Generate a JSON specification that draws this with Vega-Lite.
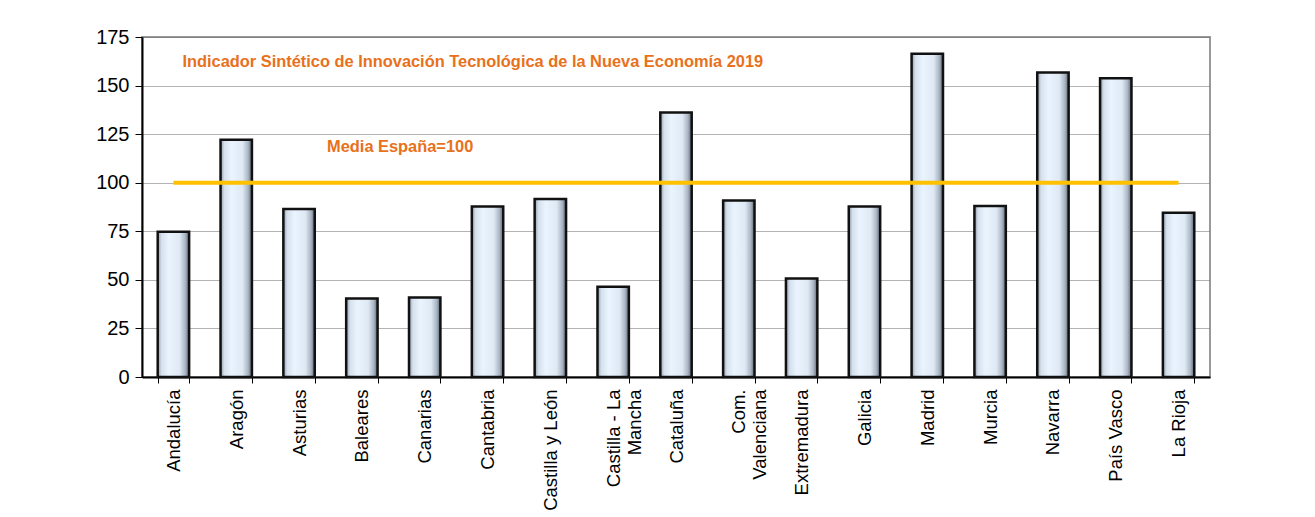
{
  "$schema": "https://vega.github.io/schema/vega-lite/v6.json",
  "width": 1068,
  "height": 340,
  "autosize": {"type": "none"},
  "padding": {"left": 142, "top": 37, "right": 105, "bottom": 140},
  "background": "white",
  "config": {
    "font": "Liberation Sans",
    "view": {"stroke": "#9a9a9a", "strokeWidth": 2}
  },
  "data": {
    "values": [
      {"region": "Andalucía", "valor": 74.7, "media": 100},
      {"region": "Aragón", "valor": 122.1, "media": 100},
      {"region": "Asturias", "valor": 86.5, "media": 100},
      {"region": "Baleares", "valor": 40.4, "media": 100},
      {"region": "Canarias", "valor": 40.9, "media": 100},
      {"region": "Cantabria", "valor": 87.8, "media": 100},
      {"region": "Castilla y León", "valor": 91.6, "media": 100},
      {"region": "Castilla - La|Mancha", "valor": 46.5, "media": 100},
      {"region": "Cataluña", "valor": 136.2, "media": 100},
      {"region": "Com.|Valenciana", "valor": 90.9, "media": 100},
      {"region": "Extremadura", "valor": 50.7, "media": 100},
      {"region": "Galicia", "valor": 87.8, "media": 100},
      {"region": "Madrid", "valor": 166.4, "media": 100},
      {"region": "Murcia", "valor": 88.0, "media": 100},
      {"region": "Navarra", "valor": 156.7, "media": 100},
      {"region": "País Vasco", "valor": 153.8, "media": 100},
      {"region": "La Rioja", "valor": 84.6, "media": 100}
    ]
  },
  "encoding": {
    "x": {
      "field": "region",
      "type": "nominal",
      "sort": null,
      "title": null,
      "scale": {"paddingInner": 0.5, "paddingOuter": 0.25},
      "axis": {
        "labelAngle": -90,
        "labelAlign": "right",
        "labelBaseline": "middle",
        "labelFontSize": 18.5,
        "labelColor": "#000000",
        "labelPadding": 6,
        "labelExpr": "split(datum.label, '|')",
        "labelLineHeight": 21,
        "tickBand": "extent",
        "tickColor": "#000000",
        "tickSize": 6,
        "tickWidth": 1,
        "domainColor": "#000000",
        "domainWidth": 2,
        "grid": false
      }
    }
  },
  "layer": [
    {
      "mark": {
        "type": "bar",
        "stroke": "#111111",
        "strokeWidth": 2.5,
        "fill": {
          "gradient": "linear",
          "x1": 0, "y1": 0, "x2": 1, "y2": 0,
          "stops": [
            {"offset": 0, "color": "#8d98a6"},
            {"offset": 0.12, "color": "#d4e0ec"},
            {"offset": 0.35, "color": "#eaf4fe"},
            {"offset": 0.7, "color": "#dfe9f4"},
            {"offset": 0.88, "color": "#a9b5c3"},
            {"offset": 1, "color": "#5a6470"}
          ]
        }
      },
      "encoding": {
        "y": {
          "field": "valor",
          "type": "quantitative",
          "title": null,
          "scale": {"domain": [0, 175], "nice": false},
          "axis": {
            "values": [0, 25, 50, 75, 100, 125, 150, 175],
            "labelFontSize": 20,
            "labelColor": "#000000",
            "labelPadding": 6,
            "tickColor": "#000000",
            "tickSize": 7,
            "domainColor": "#000000",
            "domainWidth": 2,
            "grid": true,
            "gridColor": "#666666",
            "gridDash": [1, 1],
            "gridWidth": 1
          }
        }
      }
    },
    {
      "mark": {"type": "line", "color": "#FFC000", "strokeWidth": 4},
      "encoding": {
        "y": {"field": "media", "type": "quantitative"}
      }
    },
    {
      "data": {"values": [{"region": "Andalucía", "y": 162, "texto": "Indicador Sintético de Innovación Tecnológica de la Nueva Economía 2019"}]},
      "mark": {"type": "text", "align": "left", "baseline": "middle", "dx": 9, "fontSize": 16.4, "fontWeight": "bold", "color": "#E8711C"},
      "encoding": {
        "y": {"field": "y", "type": "quantitative"},
        "text": {"field": "texto"}
      }
    },
    {
      "data": {"values": [{"region": "Asturias", "y": 118.5, "texto": "Media España=100"}]},
      "mark": {"type": "text", "align": "left", "baseline": "middle", "dx": 28, "fontSize": 16.4, "fontWeight": "bold", "color": "#E8711C"},
      "encoding": {
        "y": {"field": "y", "type": "quantitative"},
        "text": {"field": "texto"}
      }
    }
  ]
}
